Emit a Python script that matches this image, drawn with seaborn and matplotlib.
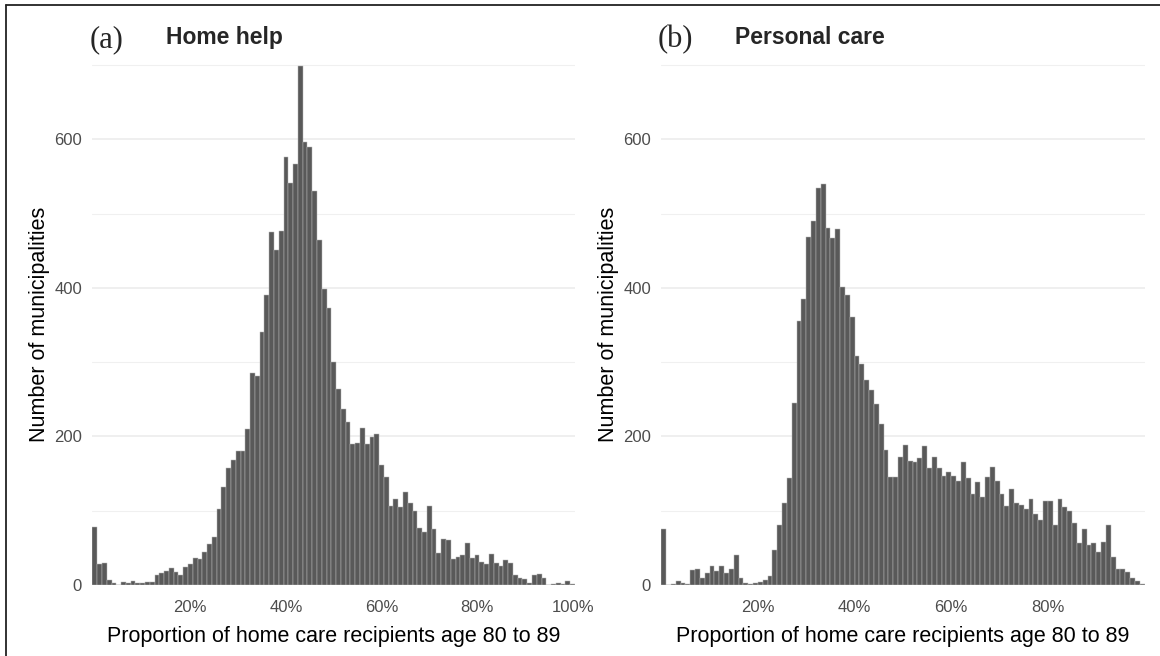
import numpy as np
import pandas as pd
import matplotlib
matplotlib.use("Agg")
import matplotlib.pyplot as plt
import seaborn as sns
from matplotlib.lines import Line2D
from matplotlib.ticker import FixedLocator

# ---------------- data ----------------
home_help_pct = list(range(0, 101))
home_help_counts = [78, 28, 29, 7, 3, 0, 4, 3, 5, 3,
                    3, 4, 4, 13, 16, 19, 23, 17, 14, 24,
                    28, 37, 35, 44, 55, 64, 102, 132, 158, 168,
                    181, 181, 210, 285, 281, 340, 391, 475, 451, 477,
                    576, 541, 567, 698, 597, 590, 530, 465, 398, 373,
                    300, 264, 237, 220, 190, 191, 211, 190, 199, 203,
                    161, 145, 107, 116, 105, 125, 111, 100, 77, 72,
                    107, 75, 43, 62, 61, 35, 38, 41, 56, 36,
                    40, 31, 28, 42, 29, 25, 34, 29, 13, 10,
                    8, 3, 14, 15, 10, 0, 1, 3, 2, 5,
                    1]

personal_care_pct = list(range(0, 100))
personal_care_counts = [75, 0, 1, 6, 3, 2, 20, 21, 9, 16,
                        26, 19, 26, 16, 22, 41, 10, 3, 2, 3,
                        4, 7, 12, 47, 81, 111, 144, 245, 356, 385,
                        469, 490, 535, 540, 481, 467, 479, 401, 390, 361,
                        308, 297, 276, 262, 244, 217, 182, 146, 145, 172,
                        189, 167, 165, 171, 187, 158, 172, 158, 147, 152,
                        147, 140, 166, 144, 123, 138, 119, 145, 159, 140,
                        123, 106, 129, 110, 108, 102, 116, 95, 88, 113,
                        113, 81, 116, 105, 100, 83, 56, 75, 54, 56,
                        45, 58, 81, 38, 22, 22, 18, 10, 5, 1]

panel_letters = ["(a)", "(b)"]
panel_titles = ["Home help", "Personal care"]
x_ticks_a = [20, 40, 60, 80, 100]
x_labels_a = ["20%", "40%", "60%", "80%", "100%"]
x_ticks_b = [20, 40, 60, 80]
x_labels_b = ["20%", "40%", "60%", "80%"]
y_major = [0, 200, 400, 600]
y_minor = [100, 300, 500, 700]
x_title = "Proportion of home care recipients age 80 to 89"
y_title = "Number of municipalities"

# ---------------- style ----------------
sns.set_theme(style="white")
plt.rcParams['font.family'] = ['Liberation Sans', 'DejaVu Sans']

W, H = 1160, 656
fig = plt.figure(figsize=(W / 100, H / 100), dpi=100)
fig.patch.set_facecolor("white")


def box(x0, x1, y0, y1):
    return [x0 / W, 1 - y1 / H, (x1 - x0) / W, (y1 - y0) / H]


ax1 = fig.add_axes(box(92.4, 575.0, 63.5, 585))
ax2 = fig.add_axes(box(661.3, 1144.6, 63.5, 585))

bar_color = "#595959"
edge_color = "#b5b5b5"

df_a = pd.DataFrame({"pct": home_help_pct, "n": home_help_counts})
df_b = pd.DataFrame({"pct": [p + 0.5 for p in personal_care_pct],
                     "n": personal_care_counts})

sns.histplot(data=df_a, x="pct", weights="n", binwidth=1, binrange=(-0.5, 100.5),
             ax=ax1, color=bar_color, alpha=1, edgecolor=edge_color, linewidth=0.35)
sns.histplot(data=df_b, x="pct", weights="n", binwidth=1, binrange=(0, 100),
             ax=ax2, color=bar_color, alpha=1, edgecolor=edge_color, linewidth=0.35)

ax1.set_xlim(-0.5, 100.5)
ax2.set_xlim(0, 100)

for ax, ticks, labels in [(ax1, x_ticks_a, x_labels_a), (ax2, x_ticks_b, x_labels_b)]:
    ax.set_ylim(0, 702)
    ax.set_axisbelow(True)
    for s in ax.spines.values():
        s.set_visible(False)
    ax.set_xticks(ticks)
    ax.set_xticklabels(labels)
    ax.yaxis.set_major_locator(FixedLocator(y_major))
    ax.yaxis.set_minor_locator(FixedLocator(y_minor))
    ax.grid(False)
    ax.grid(axis="y", which="major", color="#ebebeb", linewidth=1.1)
    ax.grid(axis="y", which="minor", color="#f0f0f0", linewidth=0.8)
    ax.tick_params(axis="both", which="both", length=0)
    ax.tick_params(axis="x", labelsize=12, labelcolor="#4d4d4d", pad=11)
    ax.tick_params(axis="y", labelsize=12, labelcolor="#4d4d4d", pad=7.5)
    ax.set_xlabel(x_title, fontsize=15.5, color="black", labelpad=7.5)
    ax.set_ylabel(y_title, fontsize=15.5, color="black", labelpad=3)

# panel titles
serif = ["Liberation Serif", "DejaVu Serif"]
fig.text(90 / W, 1 - 47 / H, panel_letters[0], family=serif,
         fontsize=22, va="baseline", ha="left")
fig.text(166 / W, 1 - 44 / H, panel_titles[0], fontsize=16.5, fontweight="bold",
         va="baseline", ha="left")
fig.text(658 / W, 1 - 47 / H, panel_letters[1], family=serif,
         fontsize=22, va="baseline", ha="left")
fig.text(735 / W, 1 - 44 / H, panel_titles[1], fontsize=16.5, fontweight="bold",
         va="baseline", ha="left")

# frame lines (left and top) as in the reference crop
fig.add_artist(Line2D([6 / W, 6 / W], [0, 1 - 5 / H], transform=fig.transFigure,
                      color="#222222", linewidth=1.3))
fig.add_artist(Line2D([6 / W, 1], [1 - 5 / H, 1 - 5 / H], transform=fig.transFigure,
                      color="#222222", linewidth=1.3))

fig.savefig("out.png", dpi=100, facecolor="white")
